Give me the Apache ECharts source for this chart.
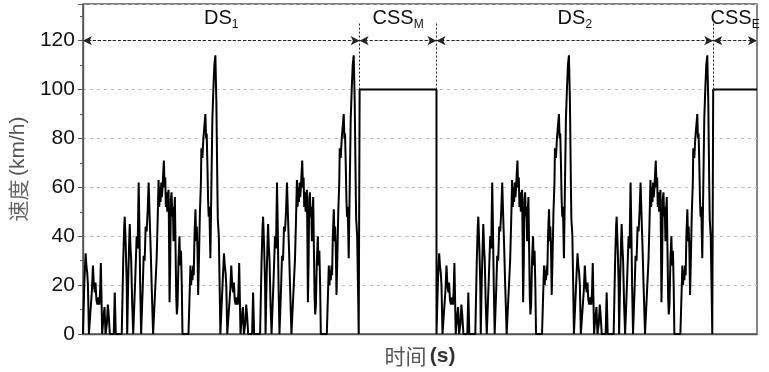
<!DOCTYPE html>
<html>
<head>
<meta charset="utf-8">
<script src="https://cdn.jsdelivr.net/npm/echarts@6/dist/echarts.min.js"></script>
<style>
  html, body { margin: 0; padding: 0; background: #fff; }
  #main { width: 769px; height: 372px; }
</style>
</head>
<body>
<div id="main"></div>
<script>
// one 1800 s sub-cycle (each DS holds two of them)
var cycleTime = [
    0, 19, 35, 45, 56, 65, 78, 97, 117, 130,
    142, 155, 164, 175, 188, 201, 214, 224, 233, 242,
    250, 265, 281, 294, 311, 324, 337, 350, 401, 414,
    427, 505, 524, 537, 544, 557, 570, 576, 589, 602,
    609, 618, 628, 641, 654, 667, 680, 699, 712, 725,
    734, 745, 757, 777, 790, 803, 816, 829, 842, 855,
    868, 881, 894, 913, 939, 958, 971, 984, 993, 1001,
    1010, 1019, 1027, 1036, 1045, 1053, 1062, 1071, 1079, 1088,
    1097, 1105, 1114, 1120, 1127, 1136, 1144, 1153, 1162, 1170,
    1179, 1188, 1196, 1205, 1214, 1222, 1231, 1243, 1256, 1265,
    1276, 1286, 1295, 1373, 1386, 1399, 1408, 1416, 1425, 1434,
    1442, 1451, 1464, 1473, 1481, 1490, 1499, 1509, 1522, 1535,
    1541, 1554, 1567, 1580, 1593, 1602, 1610, 1619, 1628, 1636,
    1645, 1658, 1671, 1684, 1697, 1710, 1723, 1736, 1749, 1755,
    1768, 1781, 1788, 1800];
var cycleSpeed = [
    0, 22, 33, 28, 25, 20, 0, 0, 18, 28,
    20, 17, 21, 14, 12, 15, 12, 18, 29, 14,
    0, 6, 11, 0, 4, 12, 7, 0, 0, 17,
    0, 0, 30, 44, 48, 36, 20, 0, 22, 38,
    45, 36, 30, 12, 0, 0, 22, 40, 35, 62,
    45, 20, 0, 18, 32, 30, 44, 42, 50, 62,
    48, 35, 20, 0, 0, 30, 45, 63, 52, 60,
    54, 62, 56, 60, 66, 71, 60, 64, 52, 58,
    50, 56, 59, 40, 13, 30, 55, 58, 48, 52,
    38, 50, 56, 35, 15, 8, 12, 30, 40, 28,
    34, 20, 0, 0, 14, 28, 20, 26, 22, 28,
    24, 40, 51, 38, 44, 35, 16, 30, 50, 62,
    76, 72, 80, 85, 90, 80, 82, 70, 55, 48,
    52, 31, 60, 88, 100, 110, 114, 95, 60, 47,
    40, 15, 0, 0];

var segNames = ['DS', 'CSS', 'DS', 'CSS'];
var segSubs = ['1', 'M', '2', 'E'];
var segStart = [0, 3600, 4600, 8200];
var segEnd = [3600, 4600, 8200, 8770];
var cssSpeed = 100;
var yTicks = [0, 20, 40, 60, 80, 100, 120];

var chart = echarts.init(document.getElementById('main'));

// build the full profile: DS = two sub-cycles, CSS = constant speed
var profile = [];
for (var s = 0; s < segStart.length; s++) {
    if (segNames[s] === 'DS') {
        for (var k = 0; k < 2; k++) {
            for (var i = 0; i < cycleTime.length; i++) {
                profile.push([segStart[s] + k * 1800 + cycleTime[i], cycleSpeed[i]]);
            }
        }
    } else {
        profile.push([segStart[s], 0]);
        profile.push([segStart[s], cssSpeed]);
        profile.push([segEnd[s], cssSpeed]);
        if (segEnd[s] < 8770) profile.push([segEnd[s], 0]);
    }
}

var markData = [];
for (var j = 0; j < segStart.length; j++) {
    markData.push([
        {coord: [segStart[j], 120], label: {formatter: '{a|' + segNames[j] + '}{b|' + segSubs[j] + '}'}},
        {coord: [segEnd[j], 120]}
    ]);
}
var vLines = [];
for (var m = 1; m < segStart.length; m++) {
    vLines.push([
        {coord: [segStart[m], 127], symbol: 'none', label: {show: false}, lineStyle: {type: [2, 2]}},
        {coord: [segStart[m], cssSpeed], symbol: 'none'}
    ]);
}

var option = {
    animation: false,
    grid: {
        left: 80, right: 12, top: 4, bottom: 37,
        show: true, borderColor: '#555', borderWidth: 1.4
    },
    xAxis: {
        type: 'value',
        min: 0,
        max: 8770,
        name: '{a|时间} {b|(s)}',
        nameLocation: 'middle',
        nameGap: 12,
        nameTextStyle: {
            rich: {
                a: {fontSize: 21, color: '#555', fontFamily: 'Noto Sans CJK SC'},
                b: {fontSize: 21, color: '#333', fontWeight: 'bold', fontFamily: 'Liberation Sans'}
            }
        },
        axisLine: {lineStyle: {color: '#555', width: 1.4}},
        axisTick: {show: false},
        axisLabel: {show: false},
        splitLine: {show: false}
    },
    yAxis: {
        type: 'value',
        min: 0,
        max: 135,
        interval: 20,
        name: '{a|速度} {b|(km/h)}',
        nameLocation: 'middle',
        nameRotate: 90,
        nameGap: 52,
        nameTextStyle: {
            rich: {
                a: {fontSize: 21, color: '#666', fontFamily: 'Noto Sans CJK SC'},
                b: {fontSize: 21, color: '#555', fontFamily: 'Liberation Sans'}
            }
        },
        axisLine: {show: true, lineStyle: {color: '#555', width: 1.4}},
        axisTick: {show: true, length: 5, lineStyle: {color: '#555'}},
        minorTick: {show: true, splitNumber: 2, length: 3, lineStyle: {color: '#555'}},
        axisLabel: {
            color: '#111',
            fontSize: 21,
            fontFamily: 'Liberation Sans',
            margin: 8,
            showMaxLabel: false,
            formatter: function (v) { return yTicks.indexOf(v) >= 0 ? v : ''; }
        },
        splitLine: {show: true, lineStyle: {color: '#bbb', type: [3, 4], width: 1}}
    },
    series: [{
        type: 'line',
        data: profile,
        showSymbol: false,
        symbol: 'none',
        lineStyle: {color: '#000', width: 2},
        clip: true,
        markLine: {
            silent: true,
            symbol: ['arrow', 'arrow'],
            symbolSize: [7, 9],
            lineStyle: {color: '#222', type: [3, 2], width: 1},
            label: {
                show: true,
                position: 'middle',
                distance: 10,
                rich: {
                    a: {fontSize: 20, color: '#111', fontFamily: 'Liberation Sans'},
                    b: {fontSize: 12, color: '#111', fontFamily: 'Liberation Sans', padding: [13, 0, 0, 0]}
                }
            },
            data: markData.concat(vLines)
        }
    }]
};
chart.setOption(option);
</script>
</body>
</html>
